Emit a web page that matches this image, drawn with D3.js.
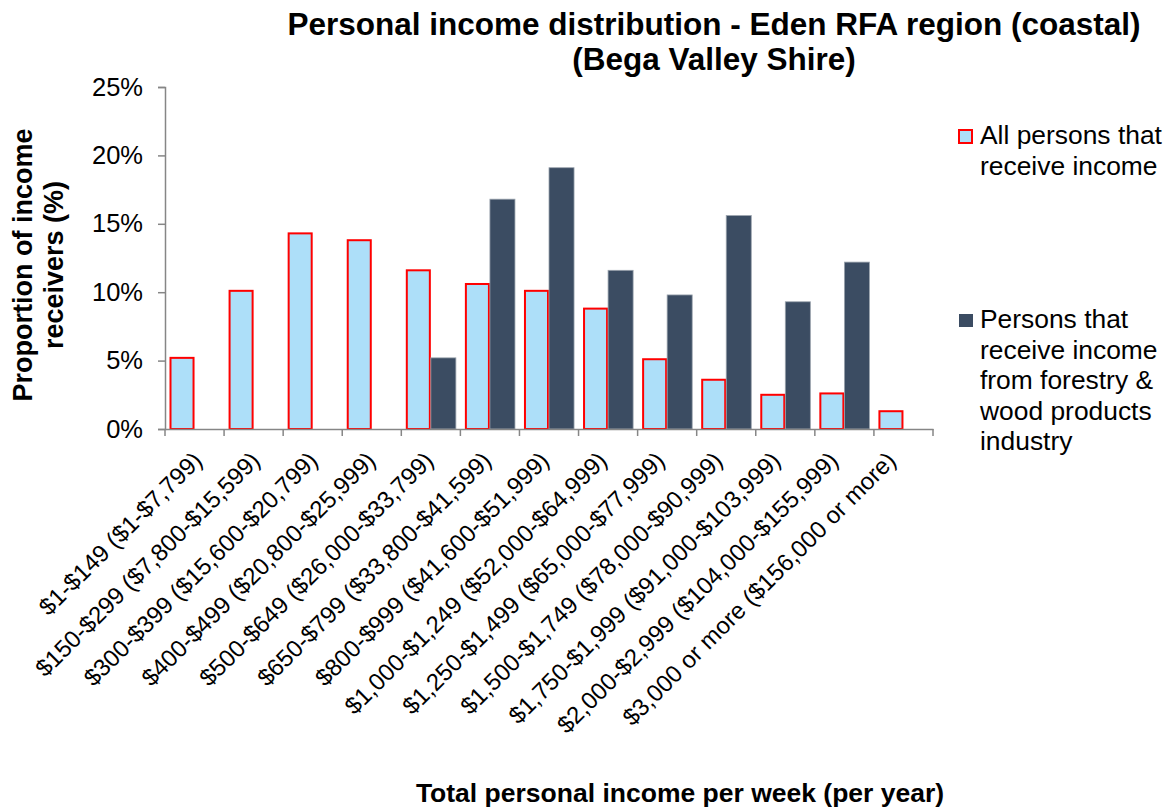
<!DOCTYPE html>
<html>
<head>
<meta charset="utf-8">
<script src="https://cdn.jsdelivr.net/npm/d3@7"></script>
<style>
  html, body { margin: 0; padding: 0; background: #fff; }
  svg { display: block; font-family: "Liberation Sans", Arial, sans-serif; }
</style>
</head>
<body>
<svg id="chart" width="1168" height="807"></svg>
<script>
// Income bands (weekly, with annual equivalent)
const categories = [
  "$1-$149 ($1-$7,799)",
  "$150-$299 ($7,800-$15,599)",
  "$300-$399 ($15,600-$20,799)",
  "$400-$499 ($20,800-$25,999)",
  "$500-$649 ($26,000-$33,799)",
  "$650-$799 ($33,800-$41,599)",
  "$800-$999 ($41,600-$51,999)",
  "$1,000-$1,249 ($52,000-$64,999)",
  "$1,250-$1,499 ($65,000-$77,999)",
  "$1,500-$1,749 ($78,000-$90,999)",
  "$1,750-$1,999 ($91,000-$103,999)",
  "$2,000-$2,999 ($104,000-$155,999)",
  "$3,000 or more ($156,000 or more)"
];

// Share of income receivers (%) in each band
const allPersons = [5.2, 10.1, 14.3, 13.8, 11.6, 10.6, 10.1, 8.8, 5.1, 3.6, 2.5, 2.6, 1.3];
const forestryPersons = [null, null, null, null, 5.2, 16.8, 19.1, 11.6, 9.8, 15.6, 9.3, 12.2, null];

const yTicks = [0, 5, 10, 15, 20, 25];

const seriesNames = [
  ["All persons that", "receive income"],
  ["Persons that", "receive income", "from forestry &", "wood products", "industry"]
];

const svg = d3.select("#chart");
const margin = { left: 165, right: 235, top: 87, bottom: 378 };
const W = 1168, H = 807;
const plotW = W - margin.left - margin.right;
const plotH = H - margin.top - margin.bottom;

const x = d3.scaleBand().domain(categories).range([0, plotW]).paddingInner(0).paddingOuter(0);
const inner = d3.scaleBand().domain([0, 1]).range([4.5, x.bandwidth() - 4.5]).padding(0);
const y = d3.scaleLinear().domain([0, 25]).range([plotH, 0]);
// Rotated labels are packed slightly tighter than the bands
const xLabel = d3.scalePoint().domain(categories)
  .range([x.bandwidth() / 2, plotW - x.bandwidth() / 2 - 15]);

const g = svg.append("g").attr("transform", `translate(${margin.left},${margin.top})`);

// Title
const titleLines = ["Personal income distribution - Eden RFA region (coastal)", "(Bega Valley Shire)"];
svg.selectAll("text.title")
  .data(titleLines)
  .join("text")
  .attr("class", "title")
  .attr("x", 714).attr("y", (d, i) => 35 + i * 35)
  .attr("text-anchor", "middle")
  .attr("font-size", 31.5).attr("font-weight", "bold")
  .text(d => d);

// Bars: all persons
g.selectAll("rect.all")
  .data(allPersons.map((v, i) => ({ v, c: categories[i] })))
  .join("rect")
  .attr("class", "all")
  .attr("x", d => x(d.c) + inner(0) + 1)
  .attr("width", inner.bandwidth() - 2)
  .attr("y", d => y(d.v))
  .attr("height", d => y(0) - y(d.v))
  .attr("fill", "#addff9")
  .attr("stroke", "#ff0000")
  .attr("stroke-width", 2);

// Bars: forestry & wood products workers
g.selectAll("rect.forest")
  .data(forestryPersons.map((v, i) => ({ v, c: categories[i] })).filter(d => d.v != null))
  .join("rect")
  .attr("class", "forest")
  .attr("x", d => x(d.c) + inner(1))
  .attr("width", inner.bandwidth())
  .attr("y", d => y(d.v))
  .attr("height", d => y(0) - y(d.v))
  .attr("fill", "#3b4c62")
  .attr("stroke", "#9aa3ad")
  .attr("stroke-width", 0.8);

// Y axis
const yAxis = g.append("g")
  .call(d3.axisLeft(y).tickValues(yTicks).tickFormat(d => d + "%").tickSize(7).tickPadding(15));
yAxis.select(".domain").attr("stroke", "#868686").attr("stroke-width", 1.5);
yAxis.selectAll(".tick line").attr("stroke", "#868686").attr("stroke-width", 1.5);
yAxis.selectAll(".tick text").attr("font-size", 25.5).attr("fill", "#000")
  .attr("font-family", "Liberation Sans, Arial, sans-serif");

// X axis
const xAxis = g.append("g").attr("transform", `translate(0,${plotH})`)
  .call(d3.axisBottom(x).tickSize(0).tickFormat(""));
xAxis.select(".domain").attr("stroke", "#868686").attr("stroke-width", 1.5);

// Category boundary ticks
const bounds = d3.range(categories.length + 1).map(i => i * x.step());
xAxis.selectAll("line.bound")
  .data(bounds)
  .join("line")
  .attr("class", "bound")
  .attr("x1", d => d).attr("x2", d => d)
  .attr("y1", 0).attr("y2", 7)
  .attr("stroke", "#868686").attr("stroke-width", 1.5);

// Rotated category labels
xAxis.selectAll("text.cat")
  .data(categories)
  .join("text")
  .attr("class", "cat")
  .attr("transform", d => `translate(${xLabel(d) + 9},${33}) rotate(-45)`)
  .attr("text-anchor", "end")
  .attr("font-size", 24)
  .attr("fill", "#000")
  .text(d => d);

// Axis titles
const yTitle = ["Proportion of income", "receivers (%)"];
svg.selectAll("text.ytitle")
  .data(yTitle)
  .join("text")
  .attr("class", "ytitle")
  .attr("transform", (d, i) => `translate(${32 + i * 31},265) rotate(-90)`)
  .attr("text-anchor", "middle")
  .attr("font-size", 27).attr("font-weight", "bold")
  .text(d => d);

svg.append("text")
  .attr("x", 680).attr("y", 802)
  .attr("text-anchor", "middle")
  .attr("font-size", 26.5).attr("font-weight", "bold")
  .text("Total personal income per week (per year)");

// Legend
const legend = svg.append("g");
const legendY = [144, 328];
const lineH = 30.5;
legend.append("rect")
  .attr("x", 959).attr("y", 130).attr("width", 13).attr("height", 13)
  .attr("fill", "#addff9").attr("stroke", "#ff0000").attr("stroke-width", 2);
legend.append("rect")
  .attr("x", 959).attr("y", 314).attr("width", 14).attr("height", 13)
  .attr("fill", "#3b4c62");
seriesNames.forEach((lines, s) => {
  const t = legend.append("text")
    .attr("x", 980).attr("y", legendY[s])
    .attr("font-size", 26.4).attr("fill", "#000");
  lines.forEach((ln, i) => {
    t.append("tspan").attr("x", 980).attr("dy", i === 0 ? 0 : lineH).text(ln);
  });
});
</script>
</body>
</html>
